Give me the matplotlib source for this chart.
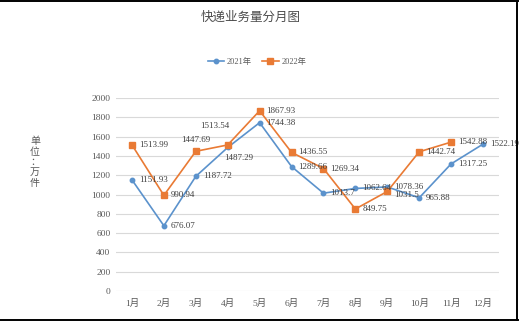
import matplotlib
matplotlib.use("Agg")
import matplotlib.pyplot as plt
from matplotlib.lines import Line2D

plt.rcParams['font.family'] = ['Liberation Serif', 'Noto Sans CJK SC']

months = ['1月', '2月', '3月', '4月', '5月', '6月', '7月', '8月', '9月', '10月', '11月', '12月']
v2021 = [1151.93, 676.07, 1187.72, 1487.29, 1744.38, 1289.66, 1013.7, 1062.64, 1078.36, 965.88, 1317.25, 1522.19]
v2022 = [1513.99, 990.94, 1447.69, 1513.54, 1867.93, 1436.55, 1269.34, 849.75, 1031.5, 1442.74, 1542.88]
yticks = [0, 200, 400, 600, 800, 1000, 1200, 1400, 1600, 1800, 2000]

# label offsets in pixels (dx, dy, ha), default is right of the point
off2021 = {3: (-4, -11, 'left')}
off2022 = {2: (0, 11, 'center'), 3: (-13, 19, 'center'), 8: (7, -4, 'left')}

blue = '#5B92CC'
orange = '#E97A34'
gray = '#595959'

fig = plt.figure(figsize=(5.19, 3.21), dpi=100)
ax = fig.add_axes([116 / 519, 1 - 291 / 321, 383 / 519, 193 / 321])

x1 = list(range(len(v2021)))
x2 = list(range(len(v2022)))
ax.plot(x1, v2021, color=blue, lw=1.2, marker='o', ms=3.2, label='2021年', zorder=3)
ax.plot(x2, v2022, color=orange, lw=1.2, marker='s', ms=4.2, label='2022年', zorder=3)

px = 0.72  # points per pixel at dpi 100


def put_labels(xs, vals, offs):
    for i, (x, v) in enumerate(zip(xs, vals)):
        dx, dy, ha = offs.get(i, (7, 0, 'left'))
        ax.annotate(f'{v:g}', (x, v), xytext=(dx * px, dy * px), textcoords='offset points',
                    ha=ha, va='center', fontsize=6.5, color='#404040', zorder=4)


put_labels(x1, v2021, off2021)
put_labels(x2, v2022, off2022)

ax.set_xlim(-0.5, 11.5)
ax.set_ylim(0, 2000)
ax.set_yticks(yticks)
ax.set_xticks(x1)
ax.set_xticklabels(months)
ax.grid(axis='y', color='#D9D9D9', lw=0.8)
ax.set_axisbelow(True)
for s in ax.spines.values():
    s.set_visible(False)
ax.tick_params(length=0, labelsize=6.8, colors=gray)
ax.tick_params(axis='y', pad=4)
ax.tick_params(axis='x', pad=6)

fig.text(0.482, 0.947, '快递业务量分月图', ha='center', va='center', fontsize=9,
         color='#4a4a4a', family=['Noto Sans CJK SC'])
fig.text(35 / 519, 1 - 162 / 321, '单\n位\n：\n万\n件', ha='center', va='center', fontsize=7.2,
         color=gray, family=['Noto Sans CJK SC'], linespacing=1.05)

ax.legend(loc='center', bbox_to_anchor=(257 / 519, 1 - 62 / 321), bbox_transform=fig.transFigure,
          ncol=2, frameon=False, handlelength=2.0, columnspacing=1.2,
          handletextpad=0.3, labelcolor=gray, prop={'family': ['Liberation Serif', 'Noto Sans CJK SC'], 'size': 6})

# outer frame lines
fig.add_artist(Line2D([0, 518 / 519], [1 - 0.8 / 321, 1 - 0.8 / 321], color='black', lw=1.4))
fig.add_artist(Line2D([0, 518 / 519], [1.5 / 321, 1.5 / 321], color='black', lw=1.4))
fig.add_artist(Line2D([517 / 519, 517 / 519], [1.5 / 321, 1 - 3 / 321], color='black', lw=1.4))

fig.savefig('out.png', dpi=100)
